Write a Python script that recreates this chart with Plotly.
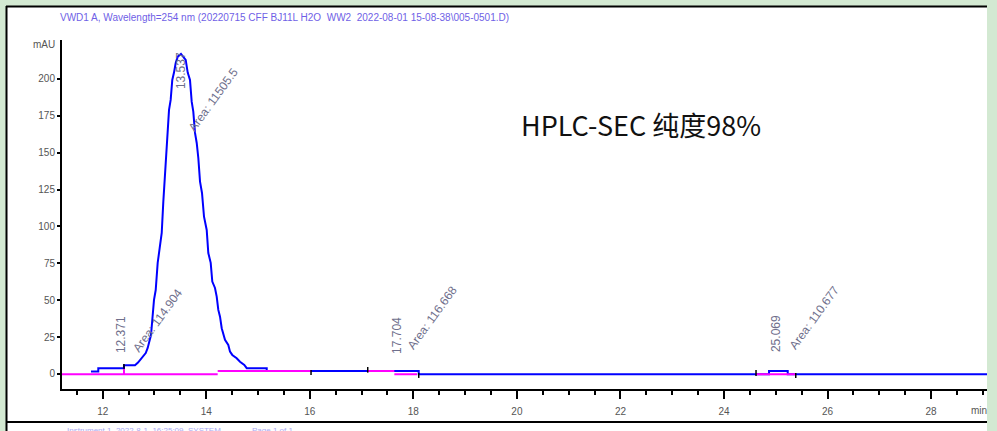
import plotly.graph_objects as go

# ---------------- data ----------------
trace_time = [11.774, 11.915, 11.915, 12.411, 12.411, 12.624, 12.682, 12.720, 12.773, 12.831,
              12.869, 12.900, 12.933, 12.958, 12.991, 13.024, 13.062, 13.101, 13.140, 13.171,
              13.190, 13.217, 13.248, 13.281, 13.313, 13.344, 13.377, 13.410, 13.449, 13.512,
              13.603, 13.642, 13.686, 13.719, 13.750, 13.783, 13.816, 13.847, 13.880, 13.918,
              13.957, 14.009, 14.040, 14.086, 14.117, 14.169, 14.202, 14.233, 14.266, 14.299,
              14.362, 14.426, 14.459, 14.503, 14.588, 14.652, 14.735, 14.782, 15.168, 15.168,
              18.104, 18.104, 24.870, 24.870, 25.231, 25.231, 29.08]
trace_mau = [1.6, 1.6, 3.9, 3.9, 5.9, 5.9, 7.7, 9.5, 11.7, 14.2,
             17.6, 21.9, 26.4, 36.6, 50.2, 56.9, 75.3, 85.4, 95.6, 116.8,
             128.1, 148.5, 160.0, 179.0, 185.8, 199.3, 204.3, 210.8, 215.1, 217.0,
             212.9, 204.3, 199.3, 184.6, 177.8, 163.4, 156.6, 146.4, 130.4, 122.7,
             106.6, 97.6, 82.0, 75.3, 62.6, 58.3, 52.4, 43.4, 38.8, 31.0,
             23.1, 19.7, 15.1, 12.9, 10.6, 8.3, 6.1, 3.9, 3.9, 2.0,
             2.0, -0.2, -0.2, 2.0, 2.0, -0.2, -0.2]

baseline_start = [11.214, 14.221, 17.119, 17.633, 24.619]
baseline_end = [14.221, 16.024, 17.633, 18.071, 25.386]
baseline_level = [-0.2, 2.0, 2.0, -0.2, -0.2]

event_time = [12.411, 16.024, 17.119, 18.104, 24.619, 25.386]
event_low = [3.6, -0.7, 0.9, -2.7, -1.4, -2.7]
event_high = [6.8, 2.7, 4.7, 0.7, 2.7, 0.7]

rt_labels = ["12.371", "13.537", "17.704", "25.069"]
rt_label_time = [12.355, 13.512, 17.685, 25.006]
rt_label_mau = [26.4, 206.0, 25.8, 27.1]

area_labels = ["Area: 114.904", "Area: 11505.5", "Area: 116.668", "Area: 110.677"]
area_label_time = [13.068, 14.131, 18.361, 25.74]
area_label_mau = [36.6, 185.8, 38.0, 38.0]

x_ticks = [12, 14, 16, 18, 20, 22, 24, 26, 28]
y_ticks = [0, 25, 50, 75, 100, 125, 150, 175, 200]

title_text = "VWD1 A, Wavelength=254 nm (20220715 CFF BJ11L H2O  WW2  2022-08-01 15-08-38\\005-0501.D)"
purity_text = "HPLC-SEC 纯度98%"
footer_text = "Instrument 1  2022-8-1  16:25:09  SYSTEM              Page 1 of 1"

# ---------------- figure ----------------
W, H = 997, 431
L, R, T, B = 62, 10, 40, 42
pw, ph = W - L - R, H - T - B


def px(xp):
    return (xp - L) / pw


def py(yp):
    return (H - B - yp) / ph


fig = go.Figure()

fig.add_trace(go.Scatter(x=trace_time, y=trace_mau, mode="lines",
                         line=dict(color="#0000ff", width=2), hoverinfo="skip"))

bx, by = [], []
for s, e, lv in zip(baseline_start, baseline_end, baseline_level):
    bx += [s, e, None]
    by += [lv, lv, None]
bx += [12.411, 12.411, None]
by += [-0.2, 3.4, None]
fig.add_trace(go.Scatter(x=bx, y=by, mode="lines",
                         line=dict(color="#ff00ff", width=2), hoverinfo="skip"))

ex, ey = [], []
for t, lo, hi in zip(event_time, event_low, event_high):
    ex += [t, t, None]
    ey += [lo, hi, None]
fig.add_trace(go.Scatter(x=ex, y=ey, mode="lines",
                         line=dict(color="#000000", width=1.5), hoverinfo="skip"))

label_font = dict(family="Liberation Sans", size=12, color="#6f6f8c")
for txt, t, v in zip(rt_labels, rt_label_time, rt_label_mau):
    fig.add_annotation(x=t, y=v, xref="x", yref="y", text=txt, showarrow=False,
                       textangle=-90, font=label_font, xanchor="center", yanchor="middle")
for txt, t, v in zip(area_labels, area_label_time, area_label_mau):
    fig.add_annotation(x=t, y=v, xref="x", yref="y", text=txt, showarrow=False,
                       textangle=-54, font=label_font, xanchor="center", yanchor="middle")

# texts in page
fig.add_annotation(x=px(58), y=py(18), xref="paper", yref="paper", text=title_text,
                   showarrow=False, xanchor="left", yanchor="middle",
                   font=dict(family="Liberation Sans", size=10, color="#6f5fe6"))
fig.add_annotation(x=px(44), y=py(45), xref="paper", yref="paper", text="mAU",
                   showarrow=False, xanchor="center", yanchor="middle",
                   font=dict(family="Liberation Sans", size=10, color="#555555"))
fig.add_annotation(x=px(979), y=py(410), xref="paper", yref="paper", text="min",
                   showarrow=False, xanchor="center", yanchor="middle",
                   font=dict(family="Liberation Sans", size=10, color="#555555"))
fig.add_annotation(x=px(641), y=py(125), xref="paper", yref="paper", text=purity_text,
                   showarrow=False, xanchor="center", yanchor="middle",
                   font=dict(family="Noto Sans CJK SC", size=27, color="#111111"))
fig.add_annotation(x=px(65), y=py(424), xref="paper", yref="paper", text=footer_text,
                   showarrow=False, xanchor="left", yanchor="top",
                   font=dict(family="Liberation Sans", size=8, color="#a9a9f2"))

# page frame
shapes = [
    dict(type="rect", xref="paper", yref="paper", x0=px(7), x1=px(987), y0=py(431), y1=py(6),
         fillcolor="white", line=dict(width=0), layer="below"),
    dict(type="line", xref="paper", yref="paper", x0=px(6), x1=px(987), y0=py(6.5), y1=py(6.5),
         line=dict(color="black", width=2)),
    dict(type="line", xref="paper", yref="paper", x0=px(6.5), x1=px(6.5), y0=py(6), y1=py(431),
         line=dict(color="black", width=2)),
    dict(type="line", xref="paper", yref="paper", x0=px(7), x1=px(987), y0=py(422), y1=py(422),
         line=dict(color="black", width=2)),
]

fig.update_layout(
    width=W, height=H,
    margin=dict(l=L, r=R, t=T, b=B, pad=0),
    paper_bgcolor="#d3e9d2", plot_bgcolor="white",
    showlegend=False, shapes=shapes,
    xaxis=dict(range=[11.214, 29.08], tickvals=x_ticks, showgrid=False, zeroline=False,
               showline=True, linecolor="black", linewidth=2, ticks="outside",
               ticklen=8, tickwidth=2, tickcolor="black", ticklabelstandoff=4,
               tickfont=dict(family="Liberation Sans", size=10, color="#555555"),
               minor=dict(dtick=0.5, tick0=0, ticks="outside", ticklen=4, tickwidth=1.5,
                          tickcolor="black", showgrid=False)),
    yaxis=dict(range=[-10.2, 226.4], tickvals=y_ticks, showgrid=False, zeroline=False,
               showline=True, linecolor="black", linewidth=2, ticks="outside",
               ticklen=3, tickwidth=2, tickcolor="black",
               tickfont=dict(family="Liberation Sans", size=10, color="#555555")),
)

fig.write_html(
    "out.html",
    config={"displayModeBar": False},
    post_script="document.body.style.margin='0';document.body.style.overflow='hidden';",
)
